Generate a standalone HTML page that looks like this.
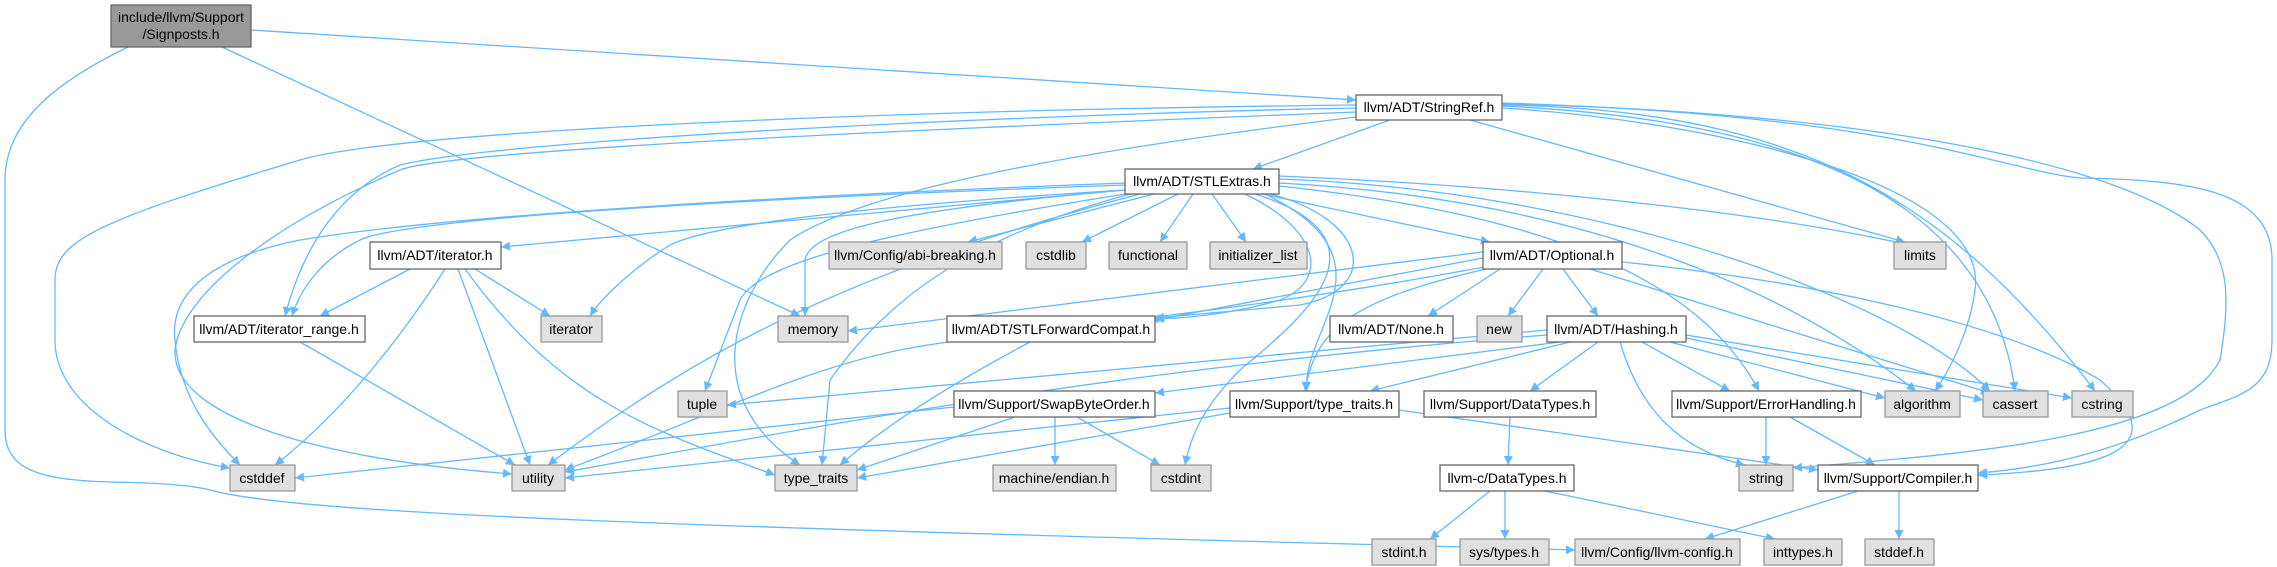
<!DOCTYPE html>
<html><head><meta charset="utf-8"><style>
html,body{margin:0;padding:0;background:#fff;}
svg{display:block;}
text{font-family:"Liberation Sans",sans-serif;font-size:14px;fill:#000;}
.e{fill:none;stroke:#63b8ff;stroke-width:1.3;marker-end:url(#a);}
.w{fill:#fff;stroke:#666;stroke-width:1.3;}
.g{fill:#e0e0e0;stroke:#999;stroke-width:1.3;}
.r{fill:#999;stroke:#666;stroke-width:1.3;}
</style></head><body>
<svg width="2277" height="567" viewBox="0 0 2277 567" xmlns="http://www.w3.org/2000/svg">
<defs><marker id="a" viewBox="0 0 10 10" refX="10" refY="5" markerUnits="userSpaceOnUse" markerWidth="11" markerHeight="9" orient="auto"><path d="M0,0 L10,5 L0,10 z" fill="#63b8ff"/></marker></defs>
<g>
<path class="e" d="M251,30 L1356,100"/>
<path class="e" d="M222,47 L800,316"/>
<path class="e" d="M128,47 C60,80 5,120 5,180 L5,430 C5,470 40,480 110,482 C160,483 190,485 210,490 C300,515 700,527 1575,550"/>
<path class="e" d="M1390,120 L1253,169"/>
<path class="e" d="M1470,120 L1905,242"/>
<path class="e" d="M1502,108 C1700,120 1990,180 1975,290 C1970,330 1950,370 1935,391"/>
<path class="e" d="M1502,106 C1800,120 1990,200 2015,391"/>
<path class="e" d="M1502,105 C1800,110 1950,200 2095,391"/>
<path class="e" d="M1502,104 C1800,110 2100,150 2200,230 C2230,260 2230,300 2220,360 C2180,440 1950,455 1793,468"/>
<path class="e" d="M1502,103 C1900,115 2000,170 2080,178 C2190,180 2272,190 2272,260 L2272,340 C2272,390 2240,395 2200,410 C2100,460 2020,470 1978,473"/>
<path class="e" d="M1356,105 C900,110 400,130 300,160 C100,220 55,240 55,280 L55,340 C55,410 150,455 230,468"/>
<path class="e" d="M1356,108 C1000,115 500,140 400,165 C330,195 300,260 285,316"/>
<path class="e" d="M1356,112 C900,130 450,150 400,170 C260,230 180,300 175,350 C172,420 330,460 512,474"/>
<path class="e" d="M1356,117 C1000,160 850,200 790,240 C730,300 700,400 800,465"/>
<path class="e" d="M1125,190 L501,247"/>
<path class="e" d="M1125,185 C700,200 400,220 360,240 C320,260 300,290 292,316"/>
<path class="e" d="M1125,183 C800,195 450,215 300,240 C200,260 170,300 175,340 C180,400 215,440 240,465"/>
<path class="e" d="M1140,194 C850,270 700,350 548,465"/>
<path class="e" d="M1125,190 C800,210 700,230 670,245 C630,270 600,300 590,316"/>
<path class="e" d="M1125,190 C900,210 810,230 805,260 L805,316"/>
<path class="e" d="M1125,194 C900,230 760,260 740,300 L705,391"/>
<path class="e" d="M1130,194 C1000,230 900,280 830,380 L822,465"/>
<path class="e" d="M1154,194 L968,242"/>
<path class="e" d="M1178,194 L1082,242"/>
<path class="e" d="M1193,194 L1160,242"/>
<path class="e" d="M1212,194 L1246,242"/>
<path class="e" d="M1262,194 L1490,242"/>
<path class="e" d="M1245,194 C1320,230 1330,280 1280,300 C1230,315 1170,320 1150,318"/>
<path class="e" d="M1270,194 C1370,220 1380,290 1300,305 L1155,318"/>
<path class="e" d="M1255,194 C1400,240 1300,320 1240,370 C1200,410 1190,440 1185,465"/>
<path class="e" d="M1265,194 C1400,260 1300,330 1307,391"/>
<path class="e" d="M1279,176 C1500,185 1750,210 1905,244"/>
<path class="e" d="M1279,183 C1600,200 1800,300 1916,391"/>
<path class="e" d="M1279,179 C1600,190 1900,300 1990,391"/>
<path class="e" d="M1279,186 C1500,210 1690,260 1759,391"/>
<path class="e" d="M410,269 L320,316"/>
<path class="e" d="M445,269 C380,370 320,430 275,465"/>
<path class="e" d="M458,269 L530,465"/>
<path class="e" d="M465,269 C560,400 650,430 775,475"/>
<path class="e" d="M475,269 L550,316"/>
<path class="e" d="M300,342 L515,465"/>
<path class="e" d="M1483,252 L848,331"/>
<path class="e" d="M1483,258 L1155,320"/>
<path class="e" d="M1500,269 L1428,316"/>
<path class="e" d="M1543,269 L1508,316"/>
<path class="e" d="M1563,269 L1598,316"/>
<path class="e" d="M1486,269 C1350,300 1315,330 1305,391"/>
<path class="e" d="M1490,266 C1200,320 1000,330 900,350 C800,370 700,420 565,470"/>
<path class="e" d="M1590,269 L1990,393"/>
<path class="e" d="M1622,262 C1800,280 2000,320 2100,380 C2180,450 2100,470 1978,475"/>
<path class="e" d="M1547,330 L727,405"/>
<path class="e" d="M1547,335 C1100,370 800,430 565,472"/>
<path class="e" d="M1560,342 L1155,393"/>
<path class="e" d="M1570,342 L1370,391"/>
<path class="e" d="M1598,342 L1530,391"/>
<path class="e" d="M1642,342 L1730,391"/>
<path class="e" d="M1620,342 C1640,410 1680,450 1745,465"/>
<path class="e" d="M1670,342 L1885,398"/>
<path class="e" d="M1686,338 L1983,400"/>
<path class="e" d="M1686,335 L2072,398"/>
<path class="e" d="M954,407 L295,478"/>
<path class="e" d="M1015,417 L857,470"/>
<path class="e" d="M1055,417 L1055,465"/>
<path class="e" d="M1077,417 L1160,465"/>
<path class="e" d="M1230,408 L565,478"/>
<path class="e" d="M1230,413 L857,478"/>
<path class="e" d="M1399,410 L1818,470"/>
<path class="e" d="M1030,342 C940,390 880,430 840,465"/>
<path class="e" d="M1510,417 L1508,465"/>
<path class="e" d="M1490,491 L1430,539"/>
<path class="e" d="M1505,491 L1505,539"/>
<path class="e" d="M1545,491 L1775,539"/>
<path class="e" d="M1766,417 L1766,465"/>
<path class="e" d="M1790,417 L1875,465"/>
<path class="e" d="M1858,491 L1705,539"/>
<path class="e" d="M1899,491 L1899,539"/>
</g>
<g text-anchor="middle">
<rect class="r" x="111" y="5" width="140" height="42"/><text x="181" y="22">include/llvm/Support</text><text x="181" y="39">/Signposts.h</text>
<rect class="w" x="1356" y="95" width="146" height="25"/><text x="1429" y="112">llvm/ADT/StringRef.h</text>
<rect class="w" x="1125" y="169" width="154" height="25"/><text x="1202" y="186">llvm/ADT/STLExtras.h</text>
<rect class="w" x="370" y="242" width="131" height="27"/><text x="435" y="260">llvm/ADT/iterator.h</text>
<rect class="g" x="829" y="242" width="173" height="27"/><text x="915" y="260">llvm/Config/abi-breaking.h</text>
<rect class="g" x="1026" y="242" width="60" height="27"/><text x="1056" y="260">cstdlib</text>
<rect class="g" x="1109" y="242" width="78" height="27"/><text x="1148" y="260">functional</text>
<rect class="g" x="1210" y="242" width="97" height="27"/><text x="1258" y="260">initializer_list</text>
<rect class="w" x="1483" y="242" width="139" height="27"/><text x="1552" y="260">llvm/ADT/Optional.h</text>
<rect class="g" x="1894" y="242" width="52" height="27"/><text x="1920" y="260">limits</text>
<rect class="w" x="194" y="316" width="171" height="26"/><text x="279" y="334">llvm/ADT/iterator_range.h</text>
<rect class="g" x="541" y="316" width="61" height="26"/><text x="571" y="334">iterator</text>
<rect class="g" x="778" y="316" width="70" height="26"/><text x="813" y="334">memory</text>
<rect class="w" x="947" y="316" width="208" height="26"/><text x="1051" y="334">llvm/ADT/STLForwardCompat.h</text>
<rect class="w" x="1330" y="316" width="123" height="26"/><text x="1391" y="334">llvm/ADT/None.h</text>
<rect class="g" x="1477" y="316" width="45" height="26"/><text x="1499" y="334">new</text>
<rect class="w" x="1547" y="316" width="139" height="26"/><text x="1616" y="334">llvm/ADT/Hashing.h</text>
<rect class="g" x="678" y="391" width="49" height="26"/><text x="702" y="409">tuple</text>
<rect class="w" x="954" y="391" width="201" height="26"/><text x="1054" y="409">llvm/Support/SwapByteOrder.h</text>
<rect class="w" x="1230" y="391" width="169" height="26"/><text x="1314" y="409">llvm/Support/type_traits.h</text>
<rect class="w" x="1424" y="391" width="172" height="26"/><text x="1510" y="409">llvm/Support/DataTypes.h</text>
<rect class="w" x="1672" y="391" width="189" height="26"/><text x="1766" y="409">llvm/Support/ErrorHandling.h</text>
<rect class="g" x="1885" y="391" width="75" height="26"/><text x="1922" y="409">algorithm</text>
<rect class="g" x="1983" y="391" width="65" height="26"/><text x="2015" y="409">cassert</text>
<rect class="g" x="2072" y="391" width="61" height="26"/><text x="2102" y="409">cstring</text>
<rect class="g" x="230" y="465" width="65" height="26"/><text x="262" y="483">cstddef</text>
<rect class="g" x="512" y="465" width="53" height="26"/><text x="538" y="483">utility</text>
<rect class="g" x="775" y="465" width="82" height="26"/><text x="816" y="483">type_traits</text>
<rect class="g" x="993" y="465" width="123" height="26"/><text x="1054" y="483">machine/endian.h</text>
<rect class="g" x="1151" y="465" width="60" height="26"/><text x="1181" y="483">cstdint</text>
<rect class="w" x="1440" y="465" width="134" height="26"/><text x="1507" y="483">llvm-c/DataTypes.h</text>
<rect class="g" x="1739" y="465" width="54" height="26"/><text x="1766" y="483">string</text>
<rect class="w" x="1818" y="465" width="160" height="26"/><text x="1898" y="483">llvm/Support/Compiler.h</text>
<rect class="g" x="1372" y="539" width="64" height="26"/><text x="1404" y="557">stdint.h</text>
<rect class="g" x="1460" y="539" width="89" height="26"/><text x="1504" y="557">sys/types.h</text>
<rect class="g" x="1575" y="539" width="165" height="26"/><text x="1657" y="557">llvm/Config/llvm-config.h</text>
<rect class="g" x="1764" y="539" width="78" height="26"/><text x="1803" y="557">inttypes.h</text>
<rect class="g" x="1865" y="539" width="69" height="26"/><text x="1899" y="557">stddef.h</text>
</g>
</svg>
</body></html>
